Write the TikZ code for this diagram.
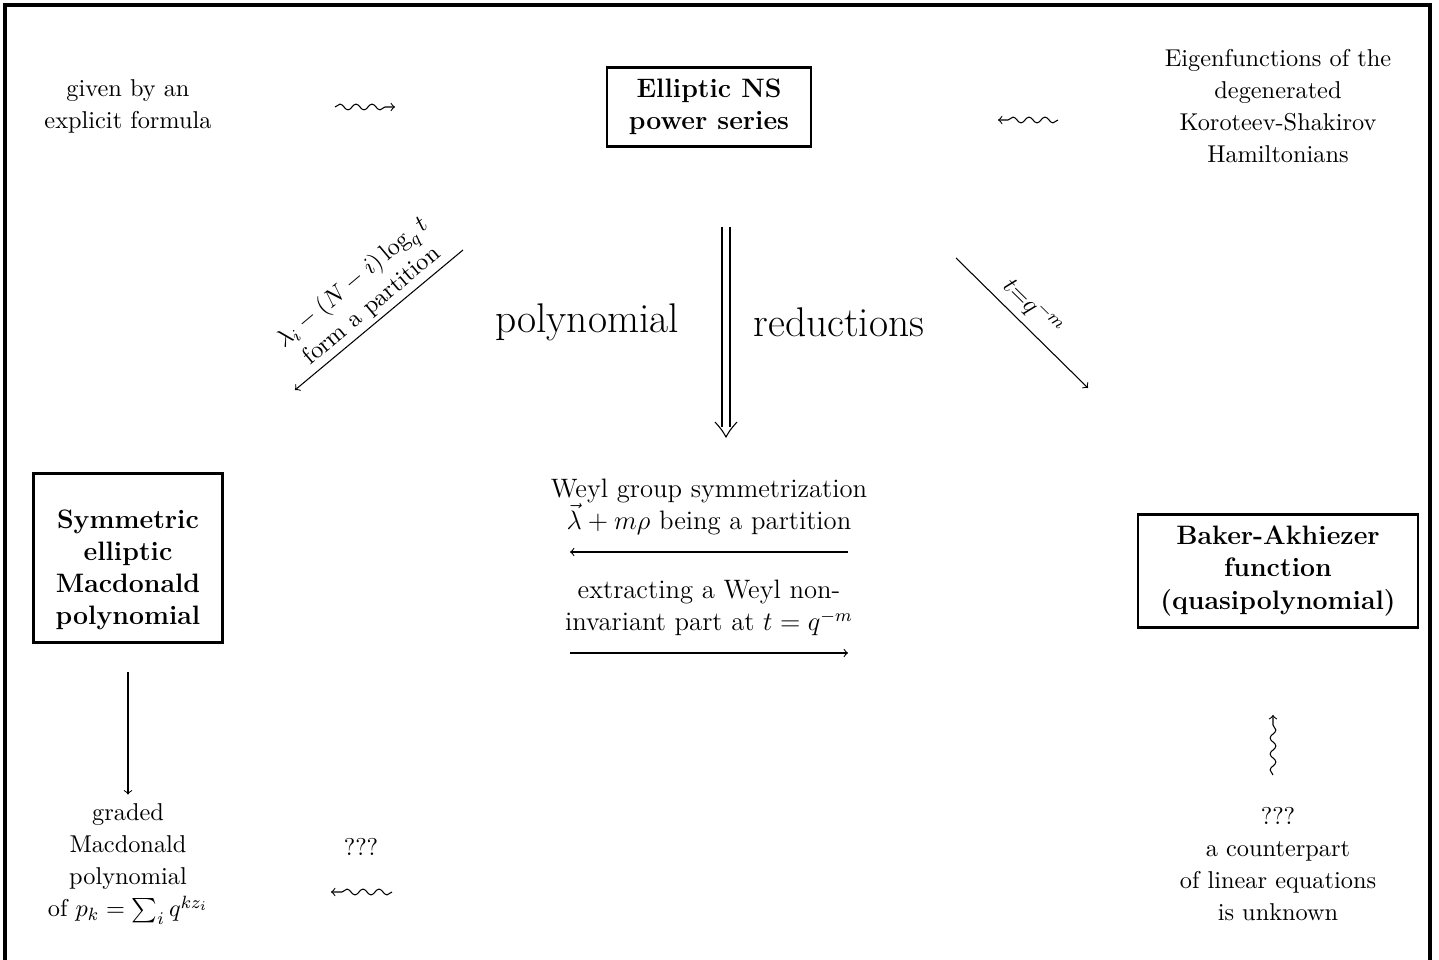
\documentclass[12pt,tikz,border=0pt]{standalone}
\usepackage{amsmath}
\usepackage{tikz}
\usetikzlibrary{calc,decorations.pathmorphing}

\tikzset{
  sidetxt/.style={align=center,font=\fontsize{10.95}{14.4}\selectfont},
  midtxt/.style={align=center,font=\normalsize},
  bigtxt/.style={font=\LARGE},
  mainbox/.style={draw,line width=0.96pt,align=center,font=\bfseries,inner xsep=10pt,inner ysep=5.2pt},
  wavy/.style={decorate,decoration={snake,segment length=7.2pt,amplitude=1.3pt,post length=2.4pt}}
}

\begin{document}
\begin{tikzpicture}[x=0.45pt,y=-0.45pt,line width=0.48pt]
    \useasboundingbox (0,0) rectangle (1439,960);
    \draw[line width=1.56pt] (5,975) -- (5,5) -- (1430,5) -- (1430,975);

    % top row
    \node[sidetxt] (formula) at (128,106) {given by an\\explicit formula};
    \node[mainbox] (ns) at (709,107) {Elliptic NS\\power series};
    \node[sidetxt] (eigen) at (1278,106) {Eigenfunctions of the\\degenerated\\Koroteev-Shakirov\\Hamiltonians};
    \coordinate (wl1) at (335,107);
    \coordinate (wl2) at (395,107);
    \draw[wavy,->] (wl1) -- (wl2);
    \coordinate (wr1) at (1058,120);
    \coordinate (wr2) at (998,120);
    \draw[wavy,->] (wr1) -- (wr2);

    % reductions
    \coordinate (dl1) at (463,250);
    \coordinate (dl2) at (295,390);
    \draw[->] (dl1) -- (dl2);
    \node[align=center,font=\small,rotate=40] (condl) at (362,294) {$\lambda_i-(N-i)\log_q t$\\form a partition};
    \coordinate (dr1) at (956,258);
    \coordinate (dr2) at (1088,388);
    \draw[->] (dr1) -- (dr2);
    \node[font=\small,rotate=-44.6] (condr) at (1033,307) {$t{=}q^{-m}$};

    \node[bigtxt] (poly) at (587,322) {\scalebox{0.9}{polynomial}};
    \node[bigtxt] (red) at (839,322) {\scalebox{0.9}{reductions}};
    \coordinate (tr1) at (726,227);
    \coordinate (tr2) at (726,437);
    \foreach \dx in {-4,4}{
      \draw[line width=0.6pt] ($(tr1)+(\dx,0)$) -- ($(tr2)+(\dx,-10)$);
      \draw[line width=1.2pt,dash pattern=on 2.4pt off 6pt] ($(tr1)+(\dx,8)$) -- ($(tr2)+(\dx,-12)$);
    }
    \draw ($(tr2)+(-11,-15)$) .. controls ($(tr2)+(-4,-7)$) .. (tr2)
          .. controls ($(tr2)+(4,-7)$) .. ($(tr2)+(11,-15)$);

    % middle
    \node[midtxt] (weyl) at (709,507) {Weyl group symmetrization\\$\vec{\lambda}+m\rho$ being a partition};
    \coordinate (ml1) at (848,552);
    \coordinate (ml2) at (570,552);
    \draw[->] (ml1) -- (ml2);
    \node[midtxt] (extr) at (709,608) {extracting a Weyl non-\\invariant part at $t=q^{-m}$};
    \coordinate (mr1) at (570,653);
    \coordinate (mr2) at (848,653);
    \draw[->] (mr1) -- (mr2);

    % left column
    \node[mainbox,minimum height=76pt] (sym) at (128,558) {\rule{0pt}{19pt}Symmetric\\elliptic\\Macdonald\\polynomial};
    \node[sidetxt] (graded) at (128,864) {graded\\Macdonald\\polynomial\\of $p_k=\sum_i q^{kz_i}$};
    \draw[->,shorten <=13pt] (sym.south) -- (graded.north);
    \node[sidetxt] (qleft) at (361,847) {???};
    \coordinate (wb1) at (392,892);
    \coordinate (wb2) at (331,892);
    \draw[wavy,->] (wb1) -- (wb2);

    % right column
    \node[mainbox] (baker) at (1278,571) {Baker-Akhiezer\\function\\(quasipolynomial)};
    \node[sidetxt] (unknown) at (1278,864) {???\\a counterpart\\of linear equations\\is unknown};
    \coordinate (wu1) at (1273,775);
    \coordinate (wu2) at (1273,715);
    \draw[wavy,->] (wu1) -- (wu2);
\end{tikzpicture}
\end{document}
